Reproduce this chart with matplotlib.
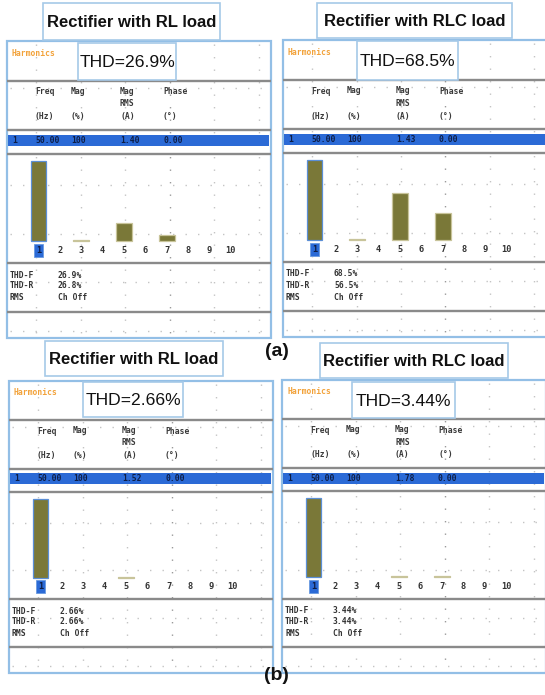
import matplotlib
matplotlib.use("Agg")
import matplotlib.pyplot as plt
from matplotlib.patches import Rectangle

# figure size in pixels
W, H = 545, 695

# harmonic spectra (% of fundamental)
harmonics = [1, 2, 3, 4, 5, 6, 7, 8, 9, 10]
mag_rl_a = [100, 0, 1.2, 0, 22.5, 0, 7.0, 0, 0, 0]
mag_rlc_a = [100, 0, 1.2, 0, 59.0, 0, 34.0, 0, 0, 0]
mag_rl_b = [100, 0, 0, 0, 1.2, 0, 0, 0, 0, 0]
mag_rlc_b = [100, 0, 0, 0, 2.0, 0, 1.2, 0, 0, 0]
spectra = [mag_rl_a, mag_rlc_a, mag_rl_b, mag_rlc_b]

titles = ["Rectifier with RL load", "Rectifier with RLC load",
          "Rectifier with RL load", "Rectifier with RLC load"]
thd_titles = ["THD=26.9%", "THD=68.5%", "THD=2.66%", "THD=3.44%"]
mag_rms = ["1.40", "1.43", "1.52", "1.78"]
thd_f = ["26.9%", "68.5%", "2.66%", "3.44%"]
thd_r = ["26.8%", "56.5%", "2.66%", "3.44%"]

# panel placement (x0, y0, height) in pixels, plus title / THD boxes
panels = [(7, 41, 297), (283, 40, 297), (9, 381, 292), (282, 380, 293)]
title_boxes = [(43, 3, 177, 37), (317, 3, 195, 35), (45, 341, 178, 35), (320, 343, 188, 35)]
thd_boxes = [(78, 43, 98, 37), (357, 41, 101, 39), (83, 382, 100, 35), (352, 382, 103, 36)]

PW = 264          # panel width in px
BORDER = "#93bfe6"
GRAY = "#8a8a8a"
BLUE = "#2b6ad6"
OLIVE = "#7a7838"
MONO = "DejaVu Sans Mono"
SANS = ["Liberation Sans", "DejaVu Sans"]


def frect(x, y, w, h):
    return [x / W, 1 - (y + h) / H, w / W, h / H]


fig = plt.figure(figsize=(W / 100, H / 100), dpi=100)
fig.patch.set_facecolor("white")

for i, (x0, y0, ph) in enumerate(panels):
    ax = fig.add_axes(frect(x0, y0, PW, ph))
    ax.set_xlim(0, PW)
    ax.set_ylim(297, 0)
    ax.axis("off")
    ax.add_patch(Rectangle((0, 0), PW, 297, fc="white", ec=BORDER, lw=1.6,
                           clip_on=False, zorder=0))

    # dotted graticule
    for k in range(6):
        gx = 29 + k * 44.5
        ax.plot([gx, gx], [3, 294], color="#9a9a9a" if k == 3 else "#c4c4c4",
                ls=(0, (1, 8)), lw=1.0, zorder=1)
    for k in range(6):
        gy = 47 + k * 48.5
        ax.plot([3, 261], [gy, gy], color="#c4c4c4", ls=(0, (1, 8)), lw=1.0, zorder=1)

    # separators
    for sy in [40, 89, 113, 222, 271]:
        ax.plot([1, 263], [sy, sy], color=GRAY, lw=1.7, zorder=2)

    ax.text(5, 12, "Harmonics", color="#f2a23a", fontsize=5.8, family=MONO,
            weight="bold", va="center", zorder=3)

    # column headers
    tk = dict(fontsize=5.8, family=MONO, weight="bold", color="#3a3a3a",
              va="center", zorder=3)
    ax.text(28, 51, "Freq", **tk)
    ax.text(64, 50, "Mag", **tk)
    ax.text(113, 50, "Mag", **tk)
    ax.text(113, 63, "RMS", **tk)
    ax.text(156, 51, "Phase", **tk)
    ax.text(28, 76, "(Hz)", **tk)
    ax.text(64, 76, "(%)", **tk)
    ax.text(113, 76, "(A)", **tk)
    ax.text(156, 76, "(°)", **tk)

    # highlighted fundamental row
    ax.add_patch(Rectangle((1, 94), 261, 11, fc=BLUE, ec="none", zorder=3))
    rk = dict(fontsize=5.8, family=MONO, weight="bold", color="#0e1d44",
              va="center", zorder=4)
    ax.text(5, 99.5, "1", **rk)
    ax.text(28, 99.5, "50.00", **rk)
    ax.text(64, 99.5, "100", **rk)
    ax.text(113, 99.5, mag_rms[i], **rk)
    ax.text(156, 99.5, "0.00", **rk)

    # summary rows
    sk = dict(fontsize=5.8, family=MONO, weight="bold", color="#333333",
              va="center", zorder=3)
    ax.text(3, 234, "THD-F", **sk)
    ax.text(3, 245, "THD-R", **sk)
    ax.text(3, 257, "RMS", **sk)
    ax.text(51, 234, thd_f[i], **sk)
    ax.text(51, 245, thd_r[i], **sk)
    ax.text(51, 257, "Ch Off", **sk)

    # spectrum bars
    s = ph / 297
    bax = fig.add_axes(frect(x0, y0 + 113 * s, PW, 109 * s))
    bax.set_xlim(1 - 31.4 / 21.4, 1 + (PW - 31.4) / 21.4)
    bax.set_ylim(-27.5, 108.75)
    bax.axis("off")
    bax.patch.set_alpha(0)
    vals = spectra[i]
    hs = [h for h, v in zip(harmonics, vals) if v > 0]
    vs = [v for v in vals if v > 0]
    bars = bax.bar(hs, vs, width=0.73, color=OLIVE, edgecolor="#c8c49a", lw=0.9)
    bars[0].set_edgecolor("#5b8fd6")
    for h in harmonics:
        if h == 1:
            bax.text(h, -11.5, str(h), ha="center", va="center", fontsize=6.2,
                     family=MONO, weight="bold", color="#0e1d44",
                     bbox=dict(boxstyle="square,pad=0.25", fc=BLUE, ec="#6a9ae0", lw=0.6))
        else:
            bax.text(h, -11.5, str(h), ha="center", va="center", fontsize=6.2,
                     family=MONO, weight="bold", color="#333333")

# title boxes and THD labels
for (x, y, w, h), t in zip(title_boxes, titles):
    fig.add_artist(Rectangle((x / W, 1 - (y + h) / H), w / W, h / H,
                             transform=fig.transFigure, fc="white", ec="#a6c9e8", lw=1.2))
    fig.text((x + w / 2) / W, 1 - (y + h / 2 + 1) / H, t, ha="center", va="center",
             fontsize=12, weight="bold", family=SANS, color="#111111")

for (x, y, w, h), t in zip(thd_boxes, thd_titles):
    fig.add_artist(Rectangle((x / W, 1 - (y + h) / H), w / W, h / H,
                             transform=fig.transFigure, fc="white", ec="#a6c9e8", lw=1.2))
    fig.text((x + w / 2) / W, 1 - (y + h / 2 + 1) / H, t, ha="center", va="center",
             fontsize=12.6, family=SANS, color="#111111")

fig.text(277 / W, 1 - 351 / H, "(a)", ha="center", va="center", fontsize=14,
         weight="bold", family=SANS, color="#111111")
fig.text(276 / W, 1 - 676 / H, "(b)", ha="center", va="center", fontsize=14,
         weight="bold", family=SANS, color="#111111")

fig.savefig("out.png", dpi=100)
